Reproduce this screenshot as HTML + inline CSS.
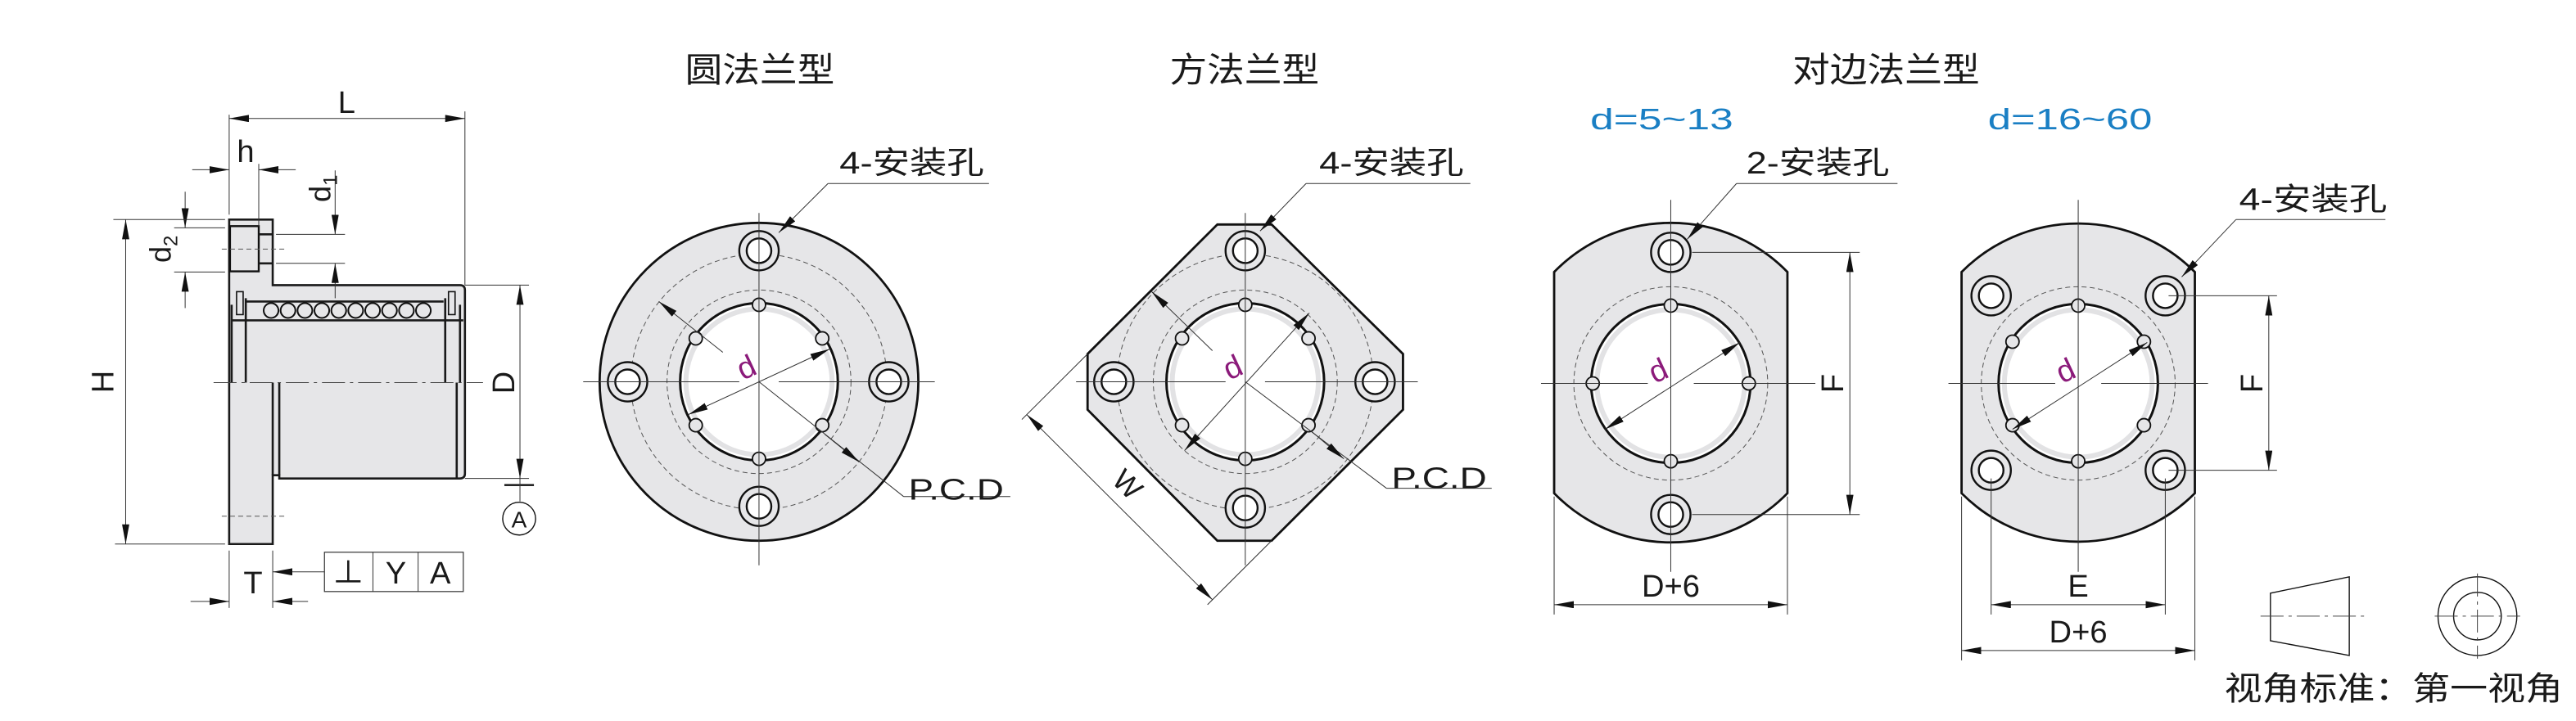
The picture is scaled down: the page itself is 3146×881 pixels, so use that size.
<!DOCTYPE html>
<html><head><meta charset="utf-8"><style>
html,body{margin:0;padding:0;background:#fff;}
svg{display:block;}
text{font-family:"Liberation Sans","Noto Sans CJK SC",sans-serif;fill:#1a1a1a;}
.k{stroke:#1a1a1a;stroke-width:1.3;fill:none;}
.t{stroke:#333;stroke-width:0.5;fill:none;}
.c{stroke:#444;stroke-width:0.5;fill:none;stroke-dasharray:14 3 2 3;}
.dsh{stroke:#555;stroke-width:0.5;fill:none;stroke-dasharray:3 2;}
.g{fill:#e6e6e8;}
</style></head><body>
<svg width="3146" height="881" viewBox="0 0 1568 440" preserveAspectRatio="none" xmlns="http://www.w3.org/2000/svg">
<defs>
<marker id="a" markerUnits="userSpaceOnUse" markerWidth="13" markerHeight="5" refX="12" refY="2.2" orient="auto-start-reverse"><path d="M0,0 L12,2.2 L0,4.4 Z" fill="#111"/></marker>
<g id="hole"><circle r="12" fill="#e6e6e8" stroke="#111" stroke-width="1.2"/><circle r="7.5" fill="#fff" stroke="#111" stroke-width="1.2"/></g>
<g id="sc"><circle r="4" fill="#e6e6e8" stroke="#111" stroke-width="0.9"/></g>
</defs>

<!-- ============ SIDE VIEW ============ -->
<rect x="139.5" y="134" width="26.5" height="198" class="g"/>
<path d="M166,174 H280 Q283,174 283,177 V289 Q283,292 280,292 H170 V290 H166 Z" class="g"/>
<path d="M139.5,134 H166 V174 H280 Q283,174 283,177 V289 Q283,292 280,292 H170 V290 H166 V332 H139.5 Z" class="k"/>
<rect x="140" y="138" width="17.5" height="27.6" fill="#e6e6e8" stroke="#111" stroke-width="1.2"/>
<line x1="157.5" y1="143" x2="166" y2="143" class="k" stroke-width="0.8"/>
<line x1="157.5" y1="160.7" x2="166" y2="160.7" class="k" stroke-width="0.8"/>
<line x1="166" y1="233.5" x2="166" y2="290" class="k"/>
<line x1="170" y1="233.5" x2="170" y2="290" class="k"/>
<line x1="278" y1="233.5" x2="278" y2="292" class="k" stroke-width="0.8"/>
<line x1="141" y1="195.5" x2="282" y2="195.5" class="k" stroke-width="1"/>
<line x1="141" y1="186" x2="141" y2="233.5" class="k" stroke-width="1.5"/>
<line x1="149.6" y1="182" x2="149.6" y2="233.5" class="k" stroke-width="1"/>
<line x1="271" y1="182" x2="271" y2="233.5" class="k" stroke-width="1"/>
<line x1="280" y1="186" x2="280" y2="233.5" class="k" stroke-width="1.5"/>
<rect x="144" y="178" width="4" height="14" fill="none" stroke="#111" stroke-width="0.8"/>
<rect x="273" y="178" width="4" height="14" fill="none" stroke="#111" stroke-width="0.8"/>
<line x1="150" y1="184" x2="270" y2="184" class="k" stroke-width="0.9"/>
<g fill="#e6e6e8" stroke="#111" stroke-width="1">
<circle cx="165" cy="189.5" r="4.5"/><circle cx="175.3" cy="189.5" r="4.5"/><circle cx="185.6" cy="189.5" r="4.5"/><circle cx="195.9" cy="189.5" r="4.5"/><circle cx="206.2" cy="189.5" r="4.5"/><circle cx="216.5" cy="189.5" r="4.5"/><circle cx="226.8" cy="189.5" r="4.5"/><circle cx="237.1" cy="189.5" r="4.5"/><circle cx="247.4" cy="189.5" r="4.5"/><circle cx="257.7" cy="189.5" r="4.5"/>
</g>
<line x1="130" y1="233.5" x2="294" y2="233.5" class="c"/>
<line x1="135" y1="152" x2="173" y2="152" class="dsh"/>
<line x1="135" y1="315" x2="173" y2="315" class="dsh"/>
<!-- L -->
<line x1="139.5" y1="70" x2="139.5" y2="131" class="t"/>
<line x1="283" y1="68" x2="283" y2="174" class="t"/>
<line x1="139.5" y1="72.3" x2="283" y2="72.3" class="t" marker-start="url(#a)" marker-end="url(#a)"/>
<text x="211" y="69" font-size="19" text-anchor="middle">L</text>
<!-- h -->
<line x1="157.5" y1="100" x2="157.5" y2="138" class="t"/>
<line x1="117" y1="103.6" x2="139.5" y2="103.6" class="t" marker-end="url(#a)"/>
<line x1="180" y1="103.6" x2="157.5" y2="103.6" class="t" marker-end="url(#a)"/>
<text x="149.5" y="99" font-size="19" text-anchor="middle">h</text>
<!-- d1 -->
<line x1="168" y1="143" x2="210" y2="143" class="t"/>
<line x1="168" y1="160.7" x2="210" y2="160.7" class="t"/>
<line x1="204" y1="104" x2="204" y2="143" class="t" marker-end="url(#a)"/>
<line x1="204" y1="182" x2="204" y2="160.7" class="t" marker-end="url(#a)"/>
<text transform="translate(201,115) rotate(-90)" font-size="18" text-anchor="middle">d<tspan font-size="12" dy="4">1</tspan></text>
<!-- d2 -->
<line x1="106" y1="139" x2="137" y2="139" class="t"/>
<line x1="106" y1="166" x2="137" y2="166" class="t"/>
<line x1="112.7" y1="117" x2="112.7" y2="139" class="t" marker-end="url(#a)"/>
<line x1="112.7" y1="188" x2="112.7" y2="166" class="t" marker-end="url(#a)"/>
<text transform="translate(104,152) rotate(-90)" font-size="18" text-anchor="middle">d<tspan font-size="12" dy="4">2</tspan></text>
<!-- H -->
<line x1="69" y1="134" x2="137" y2="134" class="t"/>
<line x1="70" y1="332" x2="137" y2="332" class="t"/>
<line x1="76.5" y1="134" x2="76.5" y2="332" class="t" marker-start="url(#a)" marker-end="url(#a)"/>
<text transform="translate(69,233) rotate(-90)" font-size="19" text-anchor="middle">H</text>
<!-- D -->
<line x1="283" y1="174" x2="322" y2="174" class="t"/>
<line x1="283" y1="292" x2="322" y2="292" class="t"/>
<line x1="316.5" y1="174" x2="316.5" y2="292" class="t" marker-start="url(#a)" marker-end="url(#a)"/>
<text transform="translate(313,233.5) rotate(-90)" font-size="19" text-anchor="middle">D</text>
<line x1="307" y1="296" x2="325" y2="296" stroke="#111" stroke-width="1.2"/>
<line x1="316.5" y1="292" x2="316.5" y2="306" class="t"/>
<circle cx="316" cy="316.5" r="10" fill="none" stroke="#111" stroke-width="0.7"/>
<text x="316" y="322" font-size="14" text-anchor="middle">A</text>
<!-- T -->
<line x1="139.5" y1="336" x2="139.5" y2="371" class="t"/>
<line x1="166" y1="336" x2="166" y2="371" class="t"/>
<line x1="116" y1="367" x2="139.5" y2="367" class="t" marker-end="url(#a)"/>
<line x1="187.5" y1="367" x2="166" y2="367" class="t" marker-end="url(#a)"/>
<text x="154" y="362" font-size="19" text-anchor="middle">T</text>
<line x1="197.5" y1="349" x2="166" y2="349" class="t" marker-end="url(#a)"/>
<rect x="197.5" y="337" width="84.5" height="24" fill="none" stroke="#333" stroke-width="0.6"/>
<line x1="227" y1="337" x2="227" y2="361" class="t"/>
<line x1="254.5" y1="337" x2="254.5" y2="361" class="t"/>
<text x="212" y="356" font-size="19" text-anchor="middle">⊥</text>
<text x="241" y="356" font-size="19" text-anchor="middle">Y</text>
<text x="268" y="356" font-size="19" text-anchor="middle">A</text>

<!-- ============ TITLES ============ -->
<text x="417" y="50" font-size="21" textLength="91" lengthAdjust="spacingAndGlyphs">圆法兰型</text>
<text x="712" y="50" font-size="21" textLength="91" lengthAdjust="spacingAndGlyphs">方法兰型</text>
<text x="1091" y="50" font-size="21" textLength="114" lengthAdjust="spacingAndGlyphs">对边法兰型</text>
<text x="968" y="79" font-size="18" style="fill:#1a7fc4" textLength="87" lengthAdjust="spacingAndGlyphs">d=5~13</text>
<text x="1210" y="79" font-size="18" style="fill:#1a7fc4" textLength="100" lengthAdjust="spacingAndGlyphs">d=16~60</text>

<!-- ============ ROUND FLANGE ============ -->
<g transform="translate(462,233)">
<circle r="97" fill="#e6e6e8" stroke="#111" stroke-width="1.4"/>
<circle r="78" class="dsh"/>
<circle r="56" class="dsh"/>
<circle r="48" fill="#fff" stroke="#111" stroke-width="1.5"/>
<circle r="44.5" fill="none" stroke="#e2e2e4" stroke-width="3"/>
<use href="#sc" x="0" y="-47"/><use href="#sc" x="0" y="47"/>
<use href="#sc" x="-38.5" y="-26.5"/><use href="#sc" x="38.5" y="-26.5"/><use href="#sc" x="-38.5" y="26.5"/><use href="#sc" x="38.5" y="26.5"/>
<use href="#hole" x="0" y="-80"/><use href="#hole" x="0" y="76"/><use href="#hole" x="-80" y="0"/><use href="#hole" x="79" y="0"/>
<line x1="-107" y1="0" x2="-12" y2="0" class="t"/><line x1="12" y1="0" x2="107" y2="0" class="t"/>
<line x1="0" y1="-103" x2="0" y2="112" class="t"/>
<line x1="-43" y1="20" x2="43" y2="-20" class="t" marker-start="url(#a)" marker-end="url(#a)"/>
<line x1="-22" y1="-18" x2="-61" y2="-49" class="t" marker-end="url(#a)"/>
<line x1="0" y1="0" x2="88" y2="70" class="t"/>
<line x1="40" y1="32" x2="61" y2="49" class="t" marker-end="url(#a)"/>
<line x1="88" y1="70" x2="153" y2="70" class="t"/>
<text transform="translate(-5,-3) rotate(-25)" font-size="19" text-anchor="middle" style="fill:#8b1a7a">d</text>
</g>
<text x="553" y="305" font-size="18" textLength="58" lengthAdjust="spacingAndGlyphs">P.C.D</text>
<text x="511" y="106" font-size="19" textLength="88" lengthAdjust="spacingAndGlyphs">4-安装孔</text>
<line x1="504" y1="112" x2="602" y2="112" class="t"/>
<line x1="504" y1="112" x2="474" y2="142" class="t" marker-end="url(#a)"/>

<!-- ============ SQUARE FLANGE ============ -->
<g transform="translate(758,233)">
<path d="M-17,-96 H16 L96,-17 V17 L16,97 H-17 L-96,17 V-17 Z" fill="#e6e6e8" stroke="#111" stroke-width="1.4"/>
<circle r="78" class="dsh"/>
<circle r="56" class="dsh"/>
<circle r="48" fill="#fff" stroke="#111" stroke-width="1.5"/>
<circle r="44.5" fill="none" stroke="#e2e2e4" stroke-width="3"/>
<use href="#sc" x="0" y="-47"/><use href="#sc" x="0" y="47"/>
<use href="#sc" x="-38.5" y="-26.5"/><use href="#sc" x="38.5" y="-26.5"/><use href="#sc" x="-38.5" y="26.5"/><use href="#sc" x="38.5" y="26.5"/>
<use href="#hole" x="0" y="-80"/><use href="#hole" x="0" y="77"/><use href="#hole" x="-80" y="0"/><use href="#hole" x="79" y="0"/>
<line x1="-103" y1="0" x2="-12" y2="0" class="t"/><line x1="12" y1="0" x2="105" y2="0" class="t"/>
<line x1="0" y1="-103" x2="0" y2="112" class="t"/>
<line x1="-37" y1="42" x2="39" y2="-42" class="t" marker-start="url(#a)" marker-end="url(#a)"/>
<line x1="-20" y1="-19" x2="-57" y2="-55" class="t" marker-end="url(#a)"/>
<line x1="0" y1="0" x2="86" y2="65" class="t"/>
<line x1="40" y1="30" x2="60" y2="47" class="t" marker-end="url(#a)"/>
<line x1="86" y1="65" x2="150" y2="65" class="t"/>
<text transform="translate(-5,-3) rotate(-25)" font-size="19" text-anchor="middle" style="fill:#8b1a7a">d</text>
</g>
<line x1="662" y1="216" x2="622" y2="256" class="t"/>
<line x1="774" y1="330" x2="735" y2="369" class="t"/>
<line x1="625" y1="253" x2="738" y2="366" class="t" marker-start="url(#a)" marker-end="url(#a)"/>
<text transform="translate(682,300) rotate(45)" font-size="18" text-anchor="middle">W</text>
<text x="847" y="298" font-size="18" textLength="58" lengthAdjust="spacingAndGlyphs">P.C.D</text>
<text x="803" y="106" font-size="19" textLength="88" lengthAdjust="spacingAndGlyphs">4-安装孔</text>
<line x1="795" y1="112" x2="895" y2="112" class="t"/>
<line x1="795" y1="112" x2="767" y2="141" class="t" marker-end="url(#a)"/>

<!-- ============ OVAL 2-HOLE ============ -->
<path d="M946,166 A99,99 0 0 1 1088,166 V301 A99,99 0 0 1 946,301 Z" fill="#e6e6e8" stroke="#111" stroke-width="1.4"/>
<g transform="translate(1017,234)">
<circle r="59" class="dsh"/>
<circle r="48.5" fill="#fff" stroke="#111" stroke-width="1.5"/>
<circle r="45" fill="none" stroke="#e2e2e4" stroke-width="3"/>
<use href="#sc" x="0" y="-47.5"/><use href="#sc" x="0" y="47.5"/><use href="#sc" x="-47.5" y="0"/><use href="#sc" x="47.5" y="0"/>
<use href="#hole" x="0" y="-80"/><use href="#hole" x="0" y="80"/>
<line x1="-79" y1="0" x2="-14" y2="0" class="t"/><line x1="14" y1="0" x2="88" y2="0" class="t"/>
<line x1="0" y1="-112" x2="0" y2="115" class="t"/>
<line x1="-40" y1="28" x2="42" y2="-25" class="t" marker-start="url(#a)" marker-end="url(#a)"/>
<text transform="translate(-5,-2) rotate(-25)" font-size="19" text-anchor="middle" style="fill:#8b1a7a">d</text>
</g>
<line x1="1030" y1="154" x2="1132" y2="154" class="t"/>
<line x1="1030" y1="314" x2="1132" y2="314" class="t"/>
<line x1="1126" y1="154" x2="1126" y2="314" class="t" marker-start="url(#a)" marker-end="url(#a)"/>
<text transform="translate(1122,234) rotate(-90)" font-size="19" text-anchor="middle">F</text>
<line x1="946" y1="303" x2="946" y2="375" class="t"/>
<line x1="1088" y1="303" x2="1088" y2="375" class="t"/>
<line x1="946" y1="369" x2="1088" y2="369" class="t" marker-start="url(#a)" marker-end="url(#a)"/>
<text x="1017" y="364" font-size="19" text-anchor="middle">D+6</text>
<text x="1063" y="106" font-size="19" textLength="87" lengthAdjust="spacingAndGlyphs">2-安装孔</text>
<line x1="1057" y1="112" x2="1155" y2="112" class="t"/>
<line x1="1057" y1="112" x2="1027" y2="146" class="t" marker-end="url(#a)"/>

<!-- ============ OVAL 4-HOLE ============ -->
<path d="M1194,166 A100,100 0 0 1 1336,166 V301 A100,100 0 0 1 1194,301 Z" fill="#e6e6e8" stroke="#111" stroke-width="1.4"/>
<g transform="translate(1265,234)">
<circle r="59" class="dsh"/>
<circle r="48.5" fill="#fff" stroke="#111" stroke-width="1.5"/>
<circle r="45" fill="none" stroke="#e2e2e4" stroke-width="3"/>
<use href="#sc" x="0" y="-47.5"/><use href="#sc" x="0" y="47.5"/>
<use href="#sc" x="-40" y="-25.5"/><use href="#sc" x="40" y="-25.5"/><use href="#sc" x="-40" y="25.5"/><use href="#sc" x="40" y="25.5"/>
<use href="#hole" x="-53" y="-53.5"/><use href="#hole" x="53" y="-53.5"/><use href="#hole" x="-53" y="53"/><use href="#hole" x="53" y="53"/>
<line x1="-79" y1="0" x2="-14" y2="0" class="t"/><line x1="14" y1="0" x2="79" y2="0" class="t"/>
<line x1="0" y1="-112" x2="0" y2="115" class="t"/>
<line x1="-40" y1="28" x2="42" y2="-25" class="t" marker-start="url(#a)" marker-end="url(#a)"/>
<text transform="translate(-5,-2) rotate(-25)" font-size="19" text-anchor="middle" style="fill:#8b1a7a">d</text>
</g>
<line x1="1320" y1="180.5" x2="1386" y2="180.5" class="t"/>
<line x1="1320" y1="287" x2="1386" y2="287" class="t"/>
<line x1="1381" y1="180.5" x2="1381" y2="287" class="t" marker-start="url(#a)" marker-end="url(#a)"/>
<text transform="translate(1377,234) rotate(-90)" font-size="19" text-anchor="middle">F</text>
<line x1="1212" y1="292" x2="1212" y2="375" class="t"/>
<line x1="1318" y1="292" x2="1318" y2="375" class="t"/>
<line x1="1194" y1="303" x2="1194" y2="403" class="t"/>
<line x1="1336" y1="303" x2="1336" y2="403" class="t"/>
<line x1="1212" y1="369" x2="1318" y2="369" class="t" marker-start="url(#a)" marker-end="url(#a)"/>
<text x="1265" y="364" font-size="19" text-anchor="middle">E</text>
<line x1="1194" y1="397" x2="1336" y2="397" class="t" marker-start="url(#a)" marker-end="url(#a)"/>
<text x="1265" y="392" font-size="19" text-anchor="middle">D+6</text>
<text x="1363" y="128" font-size="19" textLength="90" lengthAdjust="spacingAndGlyphs">4-安装孔</text>
<line x1="1361" y1="134" x2="1452" y2="134" class="t"/>
<line x1="1361" y1="134" x2="1328" y2="169" class="t" marker-end="url(#a)"/>

<!-- ============ PROJECTION SYMBOL ============ -->
<path d="M1382,362 L1430,352 V400 L1382,391 Z" fill="none" stroke="#111" stroke-width="0.7"/>
<line x1="1376" y1="376" x2="1439" y2="376" class="c" stroke-dasharray="8 2 2 2"/>
<circle cx="1508" cy="376" r="24" fill="none" stroke="#111" stroke-width="0.7"/>
<circle cx="1508" cy="376" r="14.5" fill="none" stroke="#111" stroke-width="0.7"/>
<line x1="1482" y1="376" x2="1534" y2="376" class="c" stroke-dasharray="8 2 2 2"/>
<line x1="1508" y1="350" x2="1508" y2="402" class="c" stroke-dasharray="8 2 2 2"/>
<text x="1354" y="427" font-size="20" textLength="206" lengthAdjust="spacingAndGlyphs">视角标准：第一视角</text>
</svg>
</body></html>
